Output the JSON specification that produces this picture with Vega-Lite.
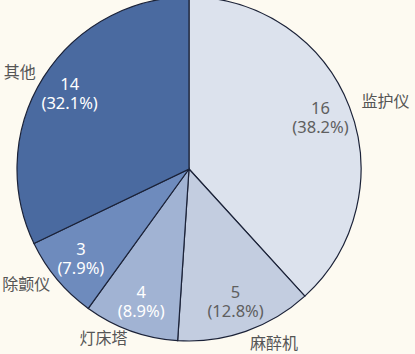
{
  "$schema": "https://vega.github.io/schema/vega-lite/v6.json",
  "width": 378,
  "height": 338,
  "autosize": {"type": "none"},
  "padding": {"left": 0, "top": 0, "right": 37, "bottom": 16},
  "background": "#fdfaf1",
  "config": {"view": {"stroke": null}},
  "data": {
    "values": [
      {"name": "监护仪", "order": 1, "count": 16, "pct": 38.2, "pctLabel": "(38.2%)", "tone": "light"},
      {"name": "麻醉机", "order": 2, "count": 5, "pct": 12.8, "pctLabel": "(12.8%)", "tone": "light"},
      {"name": "灯床塔", "order": 3, "count": 4, "pct": 8.9, "pctLabel": "(8.9%)", "tone": "dark"},
      {"name": "除颤仪", "order": 4, "count": 3, "pct": 7.9, "pctLabel": "(7.9%)", "tone": "dark"},
      {"name": "其他", "order": 5, "count": 14, "pct": 32.1, "pctLabel": "(32.1%)", "tone": "dark"}
    ]
  },
  "encoding": {
    "theta": {"field": "pct", "type": "quantitative", "stack": true},
    "order": {"field": "order", "type": "quantitative"}
  },
  "layer": [
    {
      "mark": {"type": "arc", "outerRadius": 172, "stroke": "#1b2238", "strokeWidth": 1.2},
      "encoding": {
        "fill": {
          "field": "name",
          "type": "nominal",
          "scale": {
            "domain": ["监护仪", "麻醉机", "灯床塔", "除颤仪", "其他"],
            "range": ["#dce2ed", "#c3cde0", "#a1b3d3", "#6e8bbd", "#4a6aa0"]
          },
          "legend": null
        }
      }
    },
    {
      "mark": {"type": "text", "radius": 141, "dy": -9, "baseline": "middle", "fontSize": 16.5, "font": "Noto Sans"},
      "encoding": {
        "text": {"field": "count", "type": "quantitative"},
        "color": {
          "field": "tone",
          "type": "nominal",
          "scale": {"domain": ["light", "dark"], "range": ["#5f5f5f", "#ffffff"]},
          "legend": null
        }
      }
    },
    {
      "mark": {"type": "text", "radius": 141, "dy": 10, "baseline": "middle", "fontSize": 16.5, "font": "Noto Sans"},
      "encoding": {
        "text": {"field": "pctLabel", "type": "nominal"},
        "color": {
          "field": "tone",
          "type": "nominal",
          "scale": {"domain": ["light", "dark"], "range": ["#5f5f5f", "#ffffff"]},
          "legend": null
        }
      }
    },
    {
      "mark": {"type": "text", "radius": 185, "align": "left", "baseline": "middle", "fontSize": 16, "font": "Noto Sans CJK SC", "color": "#555555"},
      "encoding": {
        "text": {"condition": {"test": "datum.order <= 2", "field": "name"}, "value": ""}
      }
    },
    {
      "mark": {"type": "text", "radius": 181, "align": "right", "baseline": "middle", "fontSize": 16, "font": "Noto Sans CJK SC", "color": "#555555"},
      "encoding": {
        "text": {"condition": {"test": "datum.order > 2", "field": "name"}, "value": ""}
      }
    }
  ]
}
